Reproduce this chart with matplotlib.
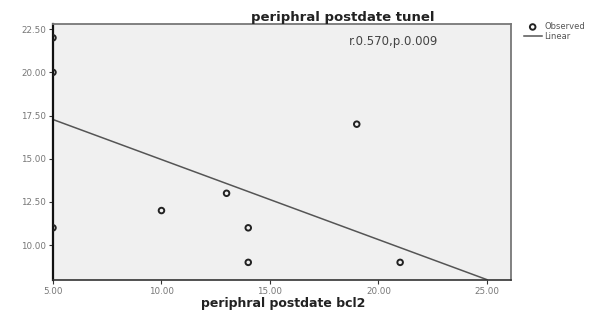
import numpy as np
import matplotlib.pyplot as plt

# observed points
bcl2 = [5, 5, 5, 10, 13, 14, 14, 19, 21]
tunel = [22, 20, 11, 12, 13, 11, 9, 17, 9]

# linear fit end points
fit_x = [5, 25]
fit_y = [17.27, 8.0]

xticks = [5, 10, 15, 20, 25]
yticks = [10, 12.5, 15, 17.5, 20, 22.5]

fig = plt.figure(figsize=(6.04, 3.12), dpi=100)
ax = fig.add_axes([0.0877, 0.1026, 0.758, 0.8205])
ax.set_facecolor('#f0f0f0')

ax.scatter(bcl2, tunel, s=16, facecolors='none', edgecolors='#222222',
           linewidths=1.4, label='Observed', zorder=3)
ax.plot(fit_x, fit_y, color='#555555', lw=1.1, label='Linear', zorder=2)

ax.set_xlim(5, 26.1)
ax.set_ylim(7.98, 22.8)
ax.set_xticks(xticks)
ax.set_yticks(yticks)
ax.set_xticklabels(['%.2f' % v for v in xticks])
ax.set_yticklabels(['%.2f' % v for v in yticks])
ax.tick_params(labelsize=6.3, labelcolor='#777777', length=3, width=0.8,
               color='#333333', pad=2)

for side in ['top', 'right']:
    ax.spines[side].set_color('#777777')
    ax.spines[side].set_linewidth(1.3)
ax.spines['left'].set_color('#111111')
ax.spines['left'].set_linewidth(1.6)
ax.spines['bottom'].set_color('#333333')
ax.spines['bottom'].set_linewidth(1.2)

fig.text(343 / 604, 1 - 17 / 312, 'periphral postdate tunel', fontsize=9.5,
         fontweight='bold', ha='center', va='center', color='#222222')
fig.text(283 / 604, 1 - 304 / 312, 'periphral postdate bcl2', fontsize=9,
         fontweight='bold', ha='center', va='center', color='#222222')
ax.text(0.745, 0.93, 'r.0.570,p.0.009', transform=ax.transAxes, fontsize=8.5,
        color='#444444', ha='center', va='center')

leg = ax.legend(loc='upper left', bbox_to_anchor=(1.015, 1.03), frameon=False,
                fontsize=6, handlelength=2.2, handletextpad=0.3, labelspacing=0.05,
                labelcolor='#555555', borderpad=0.2)

fig.savefig('out.png', dpi=100)
